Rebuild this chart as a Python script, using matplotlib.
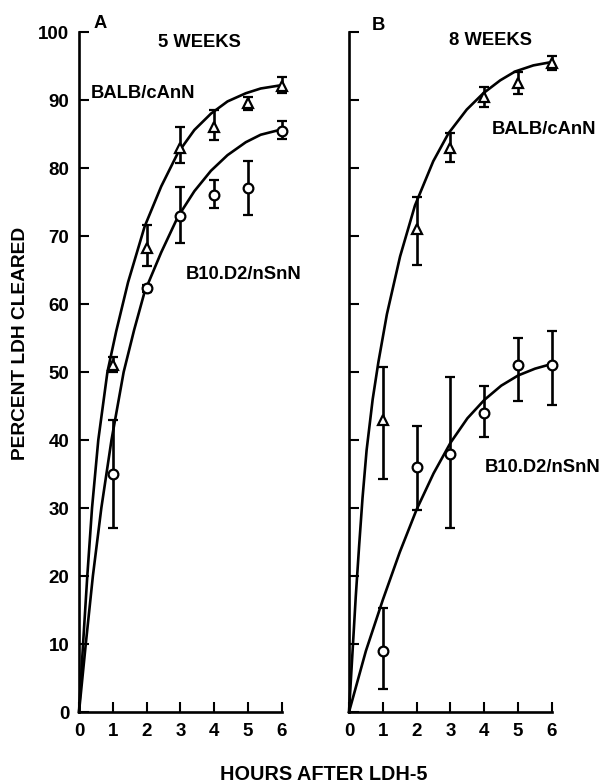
import numpy as np
import matplotlib
matplotlib.use("Agg")
import matplotlib.pyplot as plt

plt.rcParams['font.family'] = ['Liberation Sans', 'DejaVu Sans']
plt.rcParams['font.weight'] = 'bold'

hours = [1, 2, 3, 4, 5, 6]

# A: 5 weeks
a_balb = [51, 68.2, 83, 86, 89.5, 92]
a_balb_lo = [50, 65.6, 80.7, 84.1, 88.5, 91]
a_balb_hi = [52.2, 71.6, 86, 88.5, 90.4, 93.4]
a_b10 = [35, 62.3, 73, 76, 77, 85.5]
a_b10_lo = [27, 61.8, 69, 74.1, 73.1, 84.2]
a_b10_hi = [43, 62.8, 77.2, 78.2, 81, 86.9]

# B: 8 weeks
b_balb = [43, 71, 83, 90.5, 92.5, 95.5]
b_balb_lo = [34.3, 65.8, 80.9, 89, 90.9, 94.4]
b_balb_hi = [50.8, 75.7, 85.2, 91.9, 94.1, 96.5]
b_b10 = [9, 36, 38, 44, 51, 51]
b_b10_lo = [3.4, 29.7, 27.1, 40.4, 45.7, 45.1]
b_b10_hi = [15.3, 42.1, 49.3, 47.9, 55, 56]

# fitted curves, read along their length
a_balb_fit_t = [0, 0.12, 0.245, 0.385, 0.57, 0.84, 1.1, 1.45, 1.94, 2.43,
                2.92, 3.41, 3.9, 4.39, 4.93, 5.37, 6]
a_balb_fit_y = [0, 10, 20, 30, 40, 50, 56, 63.2, 71.4, 77.3,
                82.2, 85.6, 88.0, 89.8, 91.0, 91.7, 92.2]
a_b10_fit_t = [0, 0.1, 0.2, 0.41, 0.66, 0.96, 1.32, 1.63, 1.94, 2.43, 2.92,
               3.41, 3.9, 4.39, 4.93, 5.37, 6]
a_b10_fit_y = [0, 5, 10, 20, 30, 40, 50, 56.2, 61.8, 67.6, 72.8,
               76.6, 79.6, 81.9, 83.8, 84.9, 85.7]
b_balb_fit_t = [0, 0.1, 0.2, 0.3, 0.4, 0.52, 0.7, 0.87, 1.12, 1.51, 1.95, 2.49,
                2.94, 3.48, 3.97, 4.47, 4.91, 5.45, 6]
b_balb_fit_y = [0, 8.5, 17, 24.5, 31.5, 38.5, 46, 51.5, 58.5, 67, 74.5, 81,
                85.1, 88.6, 91, 92.9, 94.2, 95.1, 95.6]
b_b10_fit_t = [0, 0.5, 1, 1.5, 2, 2.5, 3, 3.5, 4, 4.5, 5, 5.5, 6]
b_b10_fit_y = [0, 9, 16.5, 23.5, 29.8, 35.1, 39.6, 43.2, 45.9, 48, 49.5, 50.5, 51.2]

fig = plt.figure(figsize=(6.11, 7.84), dpi=100)
axA = fig.add_axes([0.1293, 0.0918, 0.3322, 0.8673])
axB = fig.add_axes([0.5712, 0.0918, 0.3322, 0.8673])


def panel(ax, tri, tri_lo, tri_hi, circ, circ_lo, circ_hi, fits):
    for t, y in fits:
        ax.plot(t, y, color='black', lw=1.9, clip_on=False, zorder=2,
                solid_joinstyle='round')
    tri = np.array(tri)
    circ = np.array(circ)
    ax.errorbar(hours, tri, yerr=[tri - np.array(tri_lo), np.array(tri_hi) - tri],
                fmt='^', mfc='white', mec='black', ms=7, mew=1.6, color='black',
                ecolor='black', elinewidth=1.9, capsize=3.5, capthick=1.9,
                clip_on=False, zorder=3)
    ax.errorbar(hours, circ, yerr=[circ - np.array(circ_lo), np.array(circ_hi) - circ],
                fmt='o', mfc='white', mec='black', ms=7, mew=1.6, color='black',
                ecolor='black', elinewidth=1.9, capsize=3.5, capthick=1.9,
                clip_on=False, zorder=3)
    ax.set_xlim(0, 6)
    ax.set_ylim(0, 100)
    ax.set_xticks(range(0, 7))
    ax.set_yticks(range(0, 101, 10))
    for s in ['top', 'right']:
        ax.spines[s].set_visible(False)
    for s in ['left', 'bottom']:
        ax.spines[s].set_linewidth(1.9)
    ax.tick_params(direction='in', length=7, width=1.5, labelsize=13.5, pad=8)
    ax.tick_params(axis='y', pad=7)
    for lbl in ax.get_xticklabels() + ax.get_yticklabels():
        lbl.set_fontweight('bold')


panel(axA, a_balb, a_balb_lo, a_balb_hi, a_b10, a_b10_lo, a_b10_hi,
      [(a_balb_fit_t, a_balb_fit_y), (a_b10_fit_t, a_b10_fit_y)])
panel(axB, b_balb, b_balb_lo, b_balb_hi, b_b10, b_b10_lo, b_b10_hi,
      [(b_balb_fit_t, b_balb_fit_y), (b_b10_fit_t, b_b10_fit_y)])
axB.set_yticklabels([])

kw = dict(fontsize=13.2, fontweight='bold', clip_on=False)
axA.text(0.62, 101.3, 'A', ha='center', va='center', **kw)
axA.text(3.56, 98.5, '5 WEEKS', ha='center', va='center', **kw)
axA.text(0.35, 91, 'BALB/cAnN', ha='left', va='center', **kw)
axA.text(3.15, 64.4, 'B10.D2/nSnN', ha='left', va='center', **kw)
axB.text(0.86, 101.0, 'B', ha='center', va='center', **kw)
axB.text(4.17, 98.7, '8 WEEKS', ha='center', va='center', **kw)
axB.text(4.23, 85.7, 'BALB/cAnN', ha='left', va='center', **kw)
axB.text(4.02, 35.9, 'B10.D2/nSnN', ha='left', va='center', **kw)

fig.text(21 / 611, 1 - 343 / 784, 'PERCENT LDH CLEARED', rotation=90,
         ha='center', va='center', fontsize=13.8, fontweight='bold')
fig.text(324 / 611, 1 - 775 / 784, 'HOURS AFTER LDH-5',
         ha='center', va='center', fontsize=14.3, fontweight='bold')

fig.savefig('out.png', dpi=100)
